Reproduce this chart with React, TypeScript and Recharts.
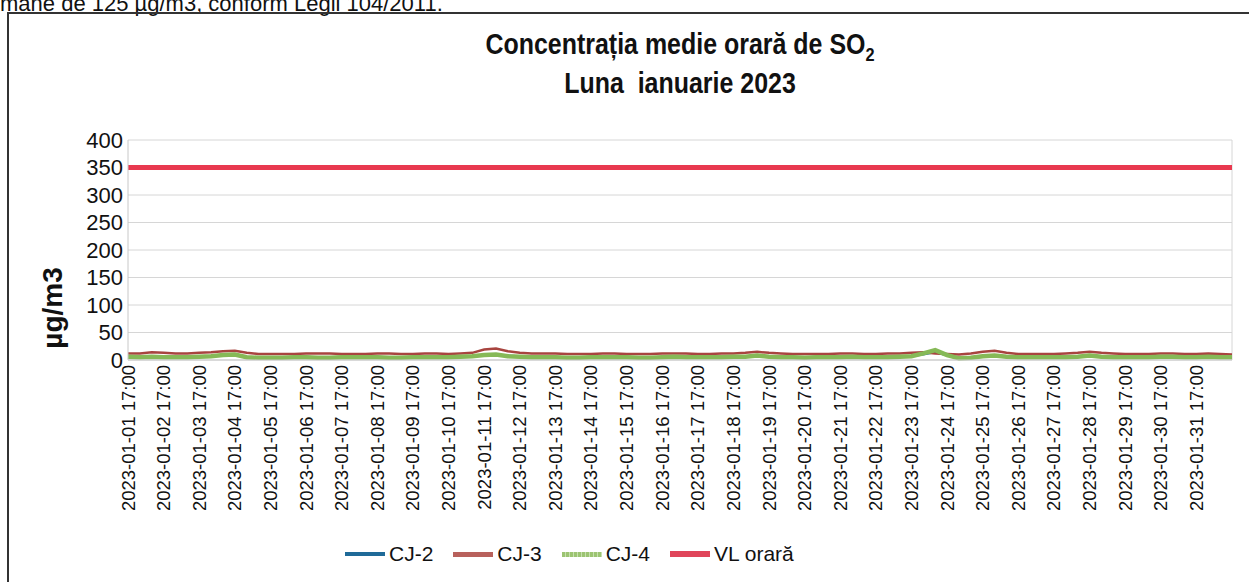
import React from 'react';
import { LineChart, Line, XAxis, YAxis, CartesianGrid, ReferenceLine } from 'recharts';

const DAYS = ['01','02','03','04','05','06','07','08','09','10','11','12','13','14','15','16','17','18','19','20','21','22','23','24','25','26','27','28','29','30','31'];
const NEXT_MONTH_DAY = '2023-02-01';
const LAST_POINT = '2023-02-01 17:00';
const Y_TICKS = [0, 50, 100, 150, 200, 250, 300, 350, 400];
const VL_ORARA = 350;

const CJ2 = [
  7, 6, 6, 6, 6, 6, 7, 7, 8, 9,
  6, 5, 5, 5, 6, 6, 5, 5, 6, 6,
  6, 6, 5, 5, 6, 6, 6, 6, 7, 7,
  9, 10, 8, 7, 6, 6, 6, 5, 5, 6,
  6, 6, 6, 5, 5, 6, 6, 6, 6, 6,
  6, 7, 7, 8, 7, 6, 6, 5, 6, 6,
  6, 7, 6, 6, 6, 7, 7, 10, 14, 8,
  4, 5, 7, 8, 7, 6, 6, 6, 6, 6,
  7, 8, 7, 6, 6, 6, 6, 7, 7, 6,
  6, 7, 6, 6,
];
const CJ3 = [
  12, 12, 14, 13, 12, 12, 13, 14, 16, 17,
  13, 11, 11, 11, 11, 12, 12, 12, 11, 11,
  11, 12, 12, 11, 11, 12, 12, 11, 12, 13,
  19, 21, 16, 13, 12, 12, 12, 11, 11, 11,
  12, 12, 11, 11, 11, 12, 12, 12, 11, 11,
  12, 12, 13, 15, 13, 12, 11, 11, 11, 11,
  12, 12, 11, 11, 12, 12, 13, 14, 12, 11,
  10, 12, 15, 17, 13, 11, 11, 11, 11, 12,
  13, 15, 13, 12, 11, 11, 11, 12, 12, 11,
  11, 12, 11, 10,
];
const CJ4 = [
  6, 5, 6, 5, 5, 5, 6, 7, 9, 10,
  5, 4, 4, 4, 5, 5, 4, 4, 5, 5,
  5, 5, 4, 4, 5, 5, 5, 5, 6, 7,
  9, 10, 7, 6, 5, 5, 5, 4, 4, 5,
  5, 5, 5, 4, 4, 5, 6, 5, 5, 5,
  5, 6, 6, 8, 6, 5, 5, 4, 5, 5,
  5, 6, 5, 5, 5, 6, 7, 12, 18, 9,
  3, 4, 7, 8, 6, 5, 5, 5, 5, 5,
  6, 8, 6, 5, 5, 5, 5, 6, 6, 5,
  5, 6, 5, 5,
];

const CATEGORIES: string[] = [];
DAYS.forEach((d, i) => {
  CATEGORIES.push(`2023-01-${d} 17:00`);
  const next = i < DAYS.length - 1 ? `2023-01-${DAYS[i + 1]}` : NEXT_MONTH_DAY;
  CATEGORIES.push(`${next} 01:00`);
  CATEGORIES.push(`${next} 09:00`);
});
CATEGORIES.push(LAST_POINT);

const TICK_LABELS = DAYS.map((d) => `2023-01-${d} 17:00`);

const DATA = CATEGORIES.map((t, i) => ({ t, cj2: CJ2[i], cj3: CJ3[i], cj4: CJ4[i], vl: VL_ORARA }));

const FONT = '"Liberation Sans", Arial, sans-serif';

const COLORS = { cj2: '#1f6a98', cj3: '#a8443f', cj4: '#86b957', vl: '#e8394f' };

const XTick = (props: any) => {
  const { x, y, payload } = props;
  return (
    <text
      x={x}
      y={y}
      transform={`rotate(-90 ${x} ${y})`}
      textAnchor="end"
      dominantBaseline="central"
      fontSize={18.5}
      fontFamily={FONT}
      fill="#111"
    >
      {payload.value}
    </text>
  );
};

const YLabel = (props: any) => {
  const { viewBox } = props;
  const cx = viewBox.x + 52;
  const cy = viewBox.y + viewBox.height / 2 + 58;
  return (
    <text
      x={cx}
      y={cy}
      transform={`rotate(-90 ${cx} ${cy})`}
      textAnchor="middle"
      dominantBaseline="central"
      fontSize={28}
      fontWeight="bold"
      fontFamily={FONT}
      fill="#111"
    >
      µg/m3
    </text>
  );
};

const LEGEND = [
  { key: 'CJ-2', color: COLORS.cj2, h: 4, dotted: false },
  { key: 'CJ-3', color: '#b8615c', h: 5, dotted: false },
  { key: 'CJ-4', color: '#9cc472', h: 5, dotted: true },
  { key: 'VL orară', color: '#e0455a', h: 6, dotted: false },
];

export default function App() {
  return (
    <div style={{ position: 'relative', width: 1249, height: 582, overflow: 'hidden', background: '#fff' }}>
      <style>{`body{margin:0;}`}</style>
      <div
        style={{
          position: 'absolute', left: 0, top: -9, fontFamily: FONT, fontSize: 22, color: '#111', whiteSpace: 'nowrap',
        }}
      >
        mane de 125 µg/m3, conform Legii 104/2011.
      </div>
      <div
        style={{
          position: 'absolute', left: 7, top: 12, width: 1260, height: 600,
          borderLeft: '2px solid #333', borderTop: '2px solid #333',
        }}
      />
      <div
        style={{
          position: 'absolute', left: 380, width: 600, top: 29, textAlign: 'center',
          fontFamily: FONT, fontWeight: 'bold', fontSize: 26, lineHeight: '35px', color: '#111',
          transform: 'scale(0.96, 1.12)', transformOrigin: '50% 50%',
        }}
      >
        <div>
          Concentrația medie orară de SO<sub style={{ fontSize: 17, verticalAlign: '-6px', lineHeight: 0 }}>2</sub>
        </div>
        <div>Luna&nbsp; ianuarie 2023</div>
      </div>
      <div style={{ position: 'absolute', left: 0, top: 0 }}>
        <LineChart width={1249} height={582} data={DATA} margin={{ top: 140, right: 17, bottom: 62, left: 0 }}>
          <CartesianGrid vertical={false} stroke="#d6d6d6" />
          <XAxis
            dataKey="t"
            ticks={TICK_LABELS}
            interval={0}
            tick={<XTick />}
            tickLine={false}
            tickSize={0}
            tickMargin={5}
            axisLine={{ stroke: '#c8c8c8' }}
            height={160}
          />
          <YAxis
            domain={[0, 400]}
            ticks={Y_TICKS}
            interval={0}
            width={128}
            tickLine={false}
            tickSize={0}
            tickMargin={5}
            axisLine={{ stroke: '#c8c8c8' }}
            tick={{ fontSize: 22, fill: '#111', fontFamily: FONT }}
            label={<YLabel />}
          />
          <ReferenceLine x={LAST_POINT} stroke="#d6d6d6" />
          <Line dataKey="cj2" stroke={COLORS.cj2} strokeWidth={2} dot={false} isAnimationActive={false} />
          <Line dataKey="cj3" stroke={COLORS.cj3} strokeWidth={2.5} dot={false} isAnimationActive={false} />
          <Line dataKey="cj4" stroke={COLORS.cj4} strokeWidth={4.5} dot={false} isAnimationActive={false} />
          <Line dataKey="vl" stroke={COLORS.vl} strokeWidth={5} dot={false} isAnimationActive={false} />
        </LineChart>
      </div>
      <div style={{ position: 'absolute', left: 345, top: 542, display: 'flex', alignItems: 'center', fontFamily: FONT, fontSize: 21, color: '#111' }}>
        {LEGEND.map((l) => (
          <div key={l.key} style={{ display: 'flex', alignItems: 'center', marginRight: 20 }}>
            <div
              style={{
                width: 40, height: l.h, background: l.color, marginRight: 4,
                backgroundImage: l.dotted ? 'repeating-linear-gradient(90deg, #9cc472 0 3px, #c6dfae 3px 4px)' : undefined,
              }}
            />
            <span>{l.key}</span>
          </div>
        ))}
      </div>
    </div>
  );
}
